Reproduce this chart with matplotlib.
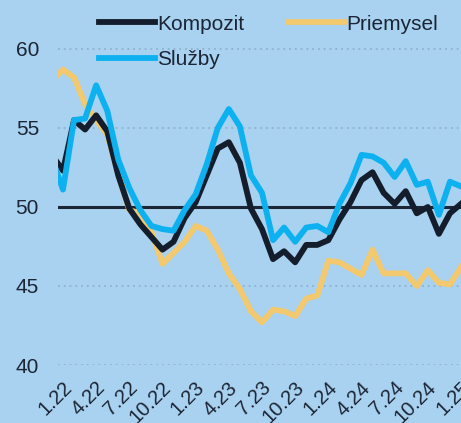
import matplotlib
matplotlib.use("Agg")
import matplotlib.pyplot as plt
import matplotlib.transforms as mtransforms

plt.rcParams['font.family'] = ['Liberation Sans', 'DejaVu Sans']

# monthly PMI values, Dec 2021 .. Jan 2025 (month index -1 .. 36, 0 = 1.22)
months = list(range(-1, 37))
kompozit = [53.3, 52.3, 55.5, 54.9, 55.8, 54.8, 52.0, 49.9, 48.9, 48.1, 47.3, 47.8, 49.3,
            50.3, 52.0, 53.7, 54.1, 52.8, 49.9, 48.6, 46.7, 47.2, 46.5, 47.6, 47.6,
            47.9, 49.2, 50.3, 51.7, 52.2, 50.9, 50.2, 51.0, 49.6, 50.0, 48.3, 49.6, 50.2]
priemysel = [58.0, 58.7, 58.2, 56.5, 55.5, 54.6, 52.1, 49.8, 49.6, 48.4, 46.4, 47.1, 47.8,
             48.8, 48.5, 47.3, 45.8, 44.8, 43.4, 42.7, 43.5, 43.4, 43.1, 44.2, 44.4,
             46.6, 46.5, 46.1, 45.7, 47.3, 45.8, 45.8, 45.8, 45.0, 46.0, 45.2, 45.1, 46.2]
sluzby = [53.1, 51.1, 55.5, 55.6, 57.7, 56.1, 53.0, 51.2, 49.8, 48.8, 48.6, 48.5, 49.8,
          50.8, 52.7, 55.0, 56.2, 55.1, 52.0, 50.9, 47.9, 48.7, 47.8, 48.7, 48.8,
          48.4, 50.2, 51.5, 53.3, 53.2, 52.8, 51.9, 52.9, 51.4, 51.6, 49.5, 51.6, 51.3]

tick_pos = list(range(0, 37, 3))
tick_labels = ['1.22', '4.22', '7.22', '10.22', '1.23', '4.23', '7.23', '10.23',
               '1.24', '4.24', '7.24', '10.24', '1.25']
y_ticks = [40, 45, 50, 55, 60]

bg = '#a9d2f0'
text_col = '#1b2535'

fig = plt.figure(figsize=(4.61, 4.23), dpi=100, facecolor=bg)
ax = fig.add_axes([58 / 461, 58 / 423, 1 - 58 / 461, 1 - 58 / 423])
ax.set_facecolor(bg)

for y in y_ticks:
    if y != 50:
        ax.axhline(y, color='#8fb2cc', lw=1.3, ls=(0, (1, 2.2)), zorder=1)
ax.axhline(50, color='#1b2535', lw=2.2, zorder=2)

l_p, = ax.plot(months, priemysel, color='#f2c96e', lw=4.2, zorder=3, label='Priemysel')
l_k, = ax.plot(months, kompozit, color='#141d2c', lw=4.2, zorder=4, label='Kompozit')
l_s, = ax.plot(months, sluzby, color='#0db1ef', lw=4.2, zorder=5, label='Služby')

ax.set_xlim(-0.45, 35.86)
ax.set_ylim(40, 63.1)
ax.set_yticks(y_ticks)
ax.set_xticks(tick_pos)
ax.set_xticklabels(tick_labels, rotation=45, ha='right', rotation_mode='anchor')
ax.tick_params(axis='both', length=0, colors=text_col)
ax.tick_params(axis='y', pad=13.7, labelsize=15)
ax.tick_params(axis='x', pad=9.5, labelsize=14.5)
shift = mtransforms.ScaledTranslation(-1 / 100, 0, fig.dpi_scale_trans)
for lab in ax.get_xticklabels():
    lab.set_transform(lab.get_transform() + shift)
for s in ax.spines.values():
    s.set_visible(False)

leg = ax.legend([l_k, l_s, l_p], ['Kompozit', 'Služby', 'Priemysel'], ncol=2,
                loc='upper left', bbox_to_anchor=(0.0655, 1.0), frameon=False,
                fontsize=15, handlelength=2.69, handletextpad=0.1, columnspacing=2.1,
                labelspacing=0.78, borderpad=0.0, borderaxespad=0.7)
for t in leg.get_texts():
    t.set_color(text_col)

fig.savefig('out.png', dpi=100, facecolor=bg)
